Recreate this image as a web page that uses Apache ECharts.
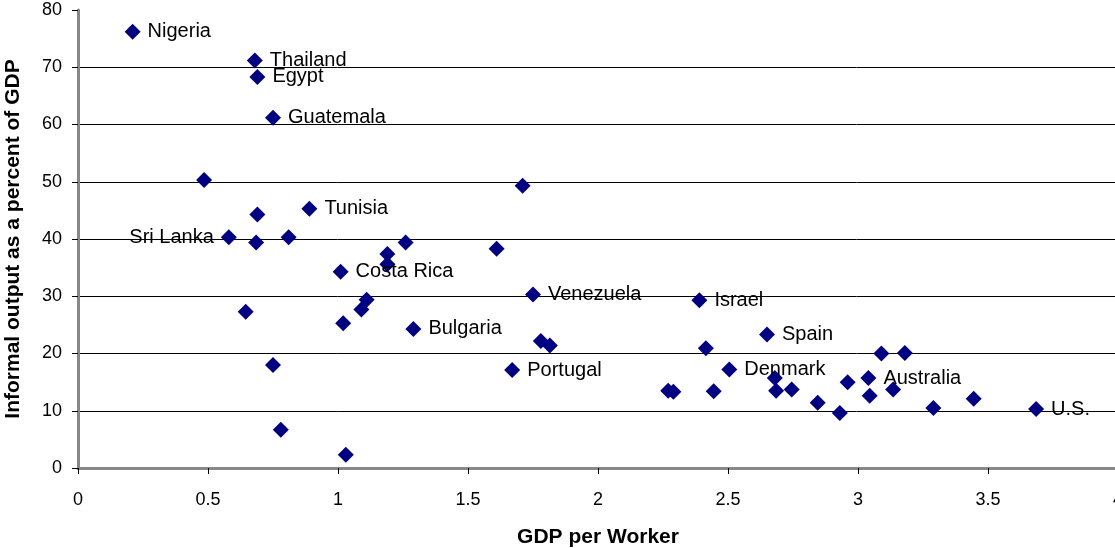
<!DOCTYPE html>
<html>
<head>
<meta charset="utf-8">
<script src="https://cdn.jsdelivr.net/npm/echarts@6/dist/echarts.min.js"></script>
<style>
  html, body { margin: 0; padding: 0; background: #fff; }
  #chart { width: 1115px; height: 548px; }
</style>
</head>
<body>
<div id="chart"></div>
<script>
// GDP per worker vs informal output (% of GDP)
const gdpPerWorker = [
  0.21, 0.68, 0.69, 0.75, 0.485, 0.89, 0.69, 0.58, 0.685, 0.81,
  1.71, 1.19, 1.26, 1.19, 1.01, 1.61, 0.645, 1.11, 1.09, 1.02,
  1.29, 0.75, 0.78, 1.03, 1.75, 1.78, 1.815, 1.67, 2.39, 2.65,
  2.415, 2.505, 2.27, 2.29, 2.445, 2.68, 2.685, 2.745, 2.845, 2.93,
  2.96, 3.04, 3.045, 3.09, 3.18, 3.135, 3.29, 3.445, 3.685
];
const informalShare = [
  76.2, 71.2, 68.3, 61.2, 50.3, 45.3, 44.3, 40.3, 39.4, 40.3,
  49.3, 37.4, 39.4, 35.6, 34.3, 38.3, 27.3, 29.4, 27.7, 25.3,
  24.3, 18.0, 6.7, 2.3, 30.3, 22.2, 21.4, 17.1, 29.3, 23.3,
  20.9, 17.2, 13.5, 13.3, 13.4, 15.7, 13.5, 13.7, 11.4, 9.6,
  15.0, 15.7, 12.6, 20.0, 20.1, 13.7, 10.5, 12.1, 10.3
];
const countryLabels = [
  'Nigeria', 'Thailand', 'Egypt', 'Guatemala', '', 'Tunisia', '', 'Sri Lanka', '', '',
  '', '', '', '', 'Costa Rica', '', '', '', '', '',
  'Bulgaria', '', '', '', 'Venezuela', '', '', 'Portugal', 'Israel', 'Spain',
  '', 'Denmark', '', '', '', '', '', '', '', '',
  '', 'Australia', '', '', '', '', '', '', 'U.S.'
];
const leftLabels = ['Sri Lanka'];

const chart = echarts.init(document.getElementById('chart'));

const points = gdpPerWorker.map((x, i) => {
  const name = countryLabels[i];
  const item = { value: [x, informalShare[i]], name: name };
  if (name) {
    item.label = {
      show: true,
      position: leftLabels.includes(name) ? 'left' : 'right'
    };
  }
  return item;
});

const option = {
  backgroundColor: '#fff',
  animation: false,
  textStyle: { fontFamily: 'Liberation Sans, Arial, sans-serif' },
  grid: { left: 78, right: -3, top: 10, bottom: 80, outerBoundsMode: 'none', containLabel: false },
  xAxis: {
    type: 'value',
    min: 0,
    max: 4,
    interval: 0.5,
    name: 'GDP per Worker',
    nameLocation: 'middle',
    nameGap: 59,
    nameTextStyle: { color: '#000', fontSize: 21, fontWeight: 'bold' },
    axisLine: { show: true, onZero: false, lineStyle: { color: '#888', width: 3 } },
    axisTick: { show: true, inside: false, length: 6, lineStyle: { color: '#000', width: 1 } },
    axisLabel: { color: '#000', fontSize: 18, margin: 23 },
    splitLine: { show: false }
  },
  yAxis: {
    type: 'value',
    min: 0,
    max: 80,
    interval: 10,
    name: 'Informal output as a percent of GDP',
    nameLocation: 'middle',
    nameGap: 54,
    nameTextStyle: { color: '#000', fontSize: 21, fontWeight: 'bold' },
    axisLine: { show: true, onZero: false, lineStyle: { color: '#888', width: 3 } },
    axisTick: { show: true, inside: false, length: 6, lineStyle: { color: '#000', width: 1 } },
    axisLabel: { color: '#000', fontSize: 18, margin: 16 },
    splitLine: { show: true, showMaxLine: false, showMinLine: false, lineStyle: { color: '#000', width: 1 } }
  },
  series: [
    {
      type: 'scatter',
      symbol: 'diamond',
      symbolSize: 16,
      itemStyle: { color: '#000080', opacity: 1 },
      label: {
        show: false,
        formatter: '{b}',
        color: '#000',
        fontSize: 20,
        distance: 7
      },
      data: points
    }
  ]
};

chart.setOption(option);
</script>
</body>
</html>
